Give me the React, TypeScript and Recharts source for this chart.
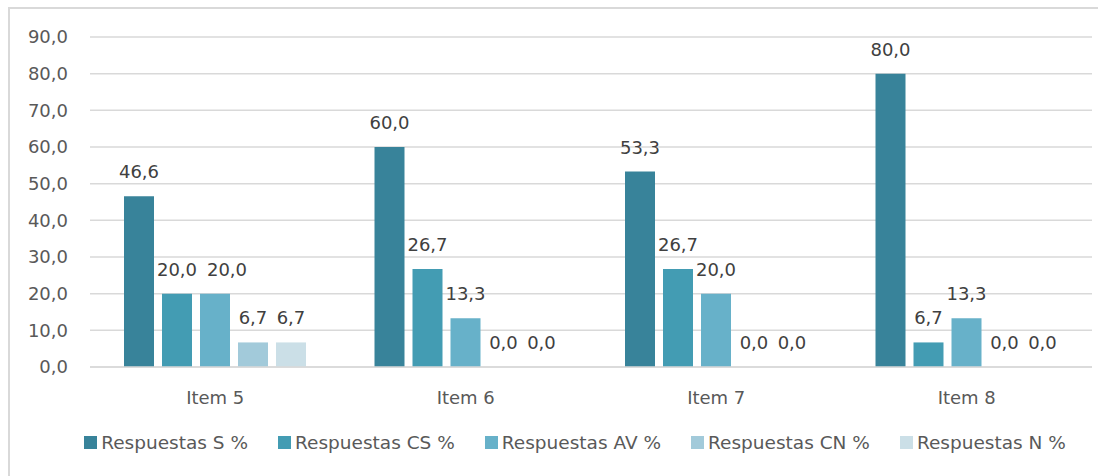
import React from "react";
import { BarChart, Bar, XAxis, YAxis, CartesianGrid, Legend, LabelList } from "recharts";

const categories = ["Item 5", "Item 6", "Item 7", "Item 8"];
const seriesNames = ["Respuestas S %", "Respuestas CS %", "Respuestas AV %", "Respuestas CN %", "Respuestas N %"];
const valuesS = [46.6, 60.0, 53.3, 80.0];
const valuesCS = [20.0, 26.7, 26.7, 6.7];
const valuesAV = [20.0, 13.3, 20.0, 13.3];
const valuesCN = [6.7, 0.0, 0.0, 0.0];
const valuesN = [6.7, 0.0, 0.0, 0.0];
const yTicks = [0, 10, 20, 30, 40, 50, 60, 70, 80, 90];

const colors = ["#38839A", "#439CB3", "#67B1C9", "#A2CADA", "#CBDFE7"];
const keys = ["s", "cs", "av", "cn", "n"];
const seriesValues = [valuesS, valuesCS, valuesAV, valuesCN, valuesN];

const data = categories.map((c, i) => {
  const row: any = { name: c };
  keys.forEach((k, j) => (row[k] = seriesValues[j][i]));
  return row;
});

const FONT = "'DejaVu Sans', sans-serif";
const fmt = (v: any) => Number(v).toFixed(1).replace(".", ",");

const renderLegend = () => (
  <div style={{ display: "flex", justifyContent: "center", fontFamily: FONT, fontSize: 18.5, color: "#595959", whiteSpace: "nowrap" }}>
    {seriesNames.map((n, i) => (
      <div key={n} style={{ display: "flex", alignItems: "center", marginRight: i < 4 ? 30 : 0 }}>
        <div style={{ width: 13, height: 13, background: colors[i], marginRight: 4 }} />
        <span>{n}</span>
      </div>
    ))}
  </div>
);

// Label renderer: nudges a label right when it would collide with the previous series' label in the same group
const makeLabel = (seriesIdx: number) => (props: any) => {
  const { x, y, width, value, index } = props;
  const text = fmt(value);
  let dx = 0;
  if (seriesIdx > 0) {
    const prev = seriesValues[seriesIdx - 1][index];
    const prevText = fmt(prev);
    if (Math.abs(prev - value) < 5 && text.length >= 4 && prevText.length >= 4) dx = 12;
  }
  return (
    <text
      x={x + width / 2 + dx}
      y={y - 18}
      textAnchor="middle"
      fill="#404040"
      fontSize={18}
      fontFamily={FONT}
    >
      {text}
    </text>
  );
};

export default function App() {
  return (
    <div style={{ position: "absolute", left: 0, top: 0, width: 1098, height: 476, background: "#fff" }}>
      <div style={{ position: "absolute", left: 8, top: 7, right: 0, bottom: 0, borderLeft: "2px solid #d9d9d9", borderTop: "2px solid #d9d9d9" }} />
      <BarChart
        width={1098}
        height={476}
        data={data}
        margin={{ top: 37, right: 6, left: 8, bottom: 48 }}
        barSize={30}
        barGap={8}
        style={{ position: "absolute", left: 0, top: 0 }}
      >
        <CartesianGrid vertical={false} stroke="#d9d9d9" strokeWidth={1.5} />
        <XAxis
          dataKey="name"
          axisLine={{ stroke: "#d9d9d9", strokeWidth: 1.5 }}
          tickLine={false}
          tickSize={0}
          tickMargin={24}
          height={40}
          tick={{ fill: "#595959", fontSize: 18, fontFamily: FONT }}
        />
        <YAxis
          domain={[0, 90]}
          ticks={yTicks}
          axisLine={false}
          tickLine={false}
          tickSize={0}
          tickMargin={22}
          width={82}
          tickFormatter={fmt}
          tick={{ fill: "#595959", fontSize: 18, fontFamily: FONT }}
          interval={0}
        />
        <Legend content={renderLegend} wrapperStyle={{ position: "absolute", top: 432, left: 26, width: 1098 }} />
        {keys.map((k, i) => (
          <Bar key={k} dataKey={k} name={seriesNames[i]} fill={colors[i]} minPointSize={0.01} isAnimationActive={false}>
            <LabelList dataKey={k} content={makeLabel(i)} />
          </Bar>
        ))}
      </BarChart>
    </div>
  );
}
